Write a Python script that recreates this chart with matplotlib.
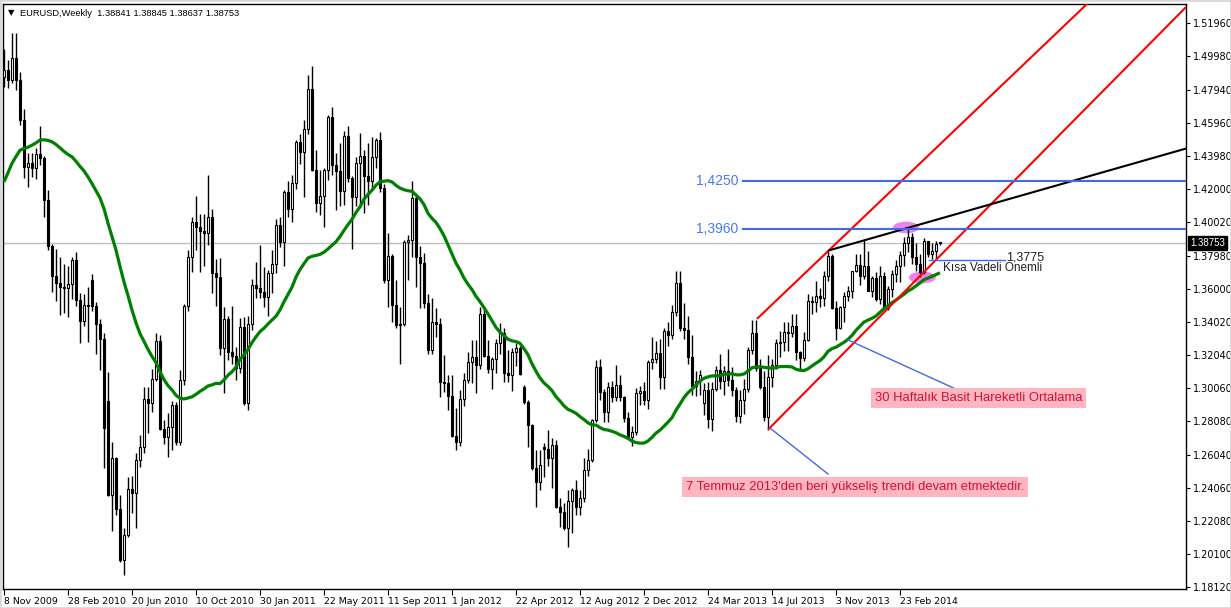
import matplotlib
matplotlib.use("Agg")
import matplotlib.pyplot as plt
import matplotlib.transforms as mtransforms
from matplotlib.patches import Ellipse, Rectangle
import numpy as np
import pandas as pd

# ---------------- data (weekly EURUSD bars, 8 Nov 2009 .. 4 May 2014) ----------------
opens = [1.4873,1.4915,1.4855,1.4987,1.4855,1.4614,1.4332,1.4356,1.4326,1.4410,
         1.4386,1.4134,1.3858,1.3678,1.3636,1.3612,1.3606,1.3630,1.3774,1.3533,
         1.3407,1.3503,1.3653,1.3497,1.3389,1.3299,1.2927,1.2363,1.2585,1.2279,
         1.1973,1.2123,1.2399,1.2375,1.2573,1.2651,1.2939,1.2915,1.3060,1.3287,
         1.2759,1.2711,1.2771,1.2903,1.2681,1.3053,1.3497,1.3792,1.4001,1.3972,
         1.3948,1.3935,1.4032,1.3696,1.3672,1.3245,1.3419,1.3221,1.3200,1.3125,
         1.3371,1.2915,1.3389,1.3623,1.3605,1.3581,1.3551,1.3694,1.3750,1.3984,
         1.3882,1.4182,1.4080,1.4236,1.4482,1.4422,1.4560,1.4801,1.4314,1.4116,
         1.4158,1.4314,1.4632,1.4344,1.4308,1.4188,1.4518,1.4266,1.4152,1.4356,
         1.4398,1.4278,1.4248,1.4392,1.4494,1.4206,1.3653,1.3798,1.3504,1.3383,
         1.3390,1.3882,1.3894,1.4146,1.3792,1.3756,1.3516,1.3233,1.3401,1.3389,
         1.3041,1.3035,1.2957,1.2717,1.2681,1.2939,1.3053,1.3161,1.3191,1.3143,
         1.3449,1.3197,1.3119,1.3179,1.3275,1.3335,1.3095,1.3083,1.3221,1.3245,
         1.3011,1.2921,1.2783,1.2525,1.2441,1.2651,1.2639,1.2585,1.2663,1.2291,
         1.2261,1.2165,1.2327,1.2393,1.2291,1.2345,1.2513,1.2575,1.2815,1.3131,
         1.2981,1.2861,1.3011,1.2951,1.3023,1.2951,1.2827,1.2711,1.2741,1.2975,
         1.2987,1.2933,1.3161,1.3179,1.3215,1.3071,1.3347,1.3323,1.3461,1.3636,
         1.3365,1.3353,1.3191,1.3020,1.3045,1.2915,1.2993,1.2819,1.2999,1.3113,
         1.3047,1.3110,1.3053,1.2993,1.2837,1.2933,1.2999,1.3233,1.3335,1.3125,
         1.3011,1.2831,1.3071,1.3143,1.3275,1.3280,1.3340,1.3335,1.3380,1.3220,
         1.3185,1.3295,1.3525,1.3520,1.3555,1.3545,1.3680,1.3800,1.3485,1.3365,
         1.3490,1.3555,1.3590,1.3705,1.3745,1.3675,1.3740,1.3590,1.3665,1.3540,
         1.3675,1.3485,1.3600,1.3690,1.3740,1.3805,1.3875,1.3910,1.3790,1.3750,
         1.3700,1.3885,1.3810,1.3830,1.38841]
highs = [1.5041,1.4975,1.5137,1.5137,1.4903,1.4680,1.4416,1.4416,1.4446,1.4578,
         1.4400,1.4194,1.3870,1.3840,1.3792,1.3750,1.3738,1.3792,1.3822,1.3575,
         1.3570,1.3611,1.3689,1.3521,1.3419,1.3335,1.3101,1.2681,1.2590,1.2363,
         1.2165,1.2471,1.2477,1.2615,1.2723,1.3011,1.3011,1.3121,1.3335,1.3323,
         1.2813,1.2855,1.2927,1.2921,1.3113,1.3510,1.3834,1.4030,1.4158,1.4050,
         1.4050,1.4284,1.4080,1.3780,1.3786,1.3491,1.3437,1.3497,1.3251,1.3425,
         1.3431,1.3437,1.3659,1.3761,1.3864,1.3732,1.3714,1.3834,1.4020,1.4032,
         1.4194,1.4248,1.4284,1.4494,1.4530,1.4614,1.4885,1.4939,1.4434,1.4314,
         1.4326,1.4644,1.4692,1.4416,1.4476,1.4548,1.4580,1.4280,1.4392,1.4536,
         1.4434,1.4476,1.4512,1.4506,1.4545,1.4230,1.3936,1.3810,1.3653,1.3491,
         1.3894,1.3924,1.4248,1.4160,1.3857,1.3815,1.3569,1.3545,1.3485,1.3425,
         1.3203,1.3083,1.3083,1.2885,1.2993,1.3095,1.3221,1.3293,1.3293,1.3491,
         1.3485,1.3293,1.3191,1.3299,1.3395,1.3365,1.3233,1.3245,1.3275,1.3257,
         1.3023,1.2935,1.2790,1.2633,1.2633,1.2675,1.2753,1.2705,1.2693,1.2345,
         1.2315,1.2393,1.2405,1.2453,1.2390,1.2585,1.2640,1.2820,1.3173,1.3179,
         1.3000,1.3041,1.3050,1.3143,1.3085,1.2960,1.2860,1.2780,1.3005,1.3015,
         1.3040,1.3173,1.3311,1.3290,1.3300,1.3365,1.3401,1.3503,1.3708,1.3710,
         1.3515,1.3440,1.3324,1.3110,1.3115,1.3035,1.3040,1.3040,1.3140,1.3210,
         1.3140,1.3240,1.3130,1.3010,1.2995,1.3060,1.3250,1.3413,1.3415,1.3180,
         1.3110,1.3205,1.3180,1.3300,1.3345,1.3400,1.3400,1.3450,1.3452,1.3230,
         1.3340,1.3570,1.3555,1.3645,1.3605,1.3705,1.3830,1.3810,1.3530,1.3495,
         1.3580,1.3620,1.3710,1.3810,1.3810,1.3895,1.3830,1.3675,1.3700,1.3740,
         1.3700,1.3620,1.3715,1.3775,1.3825,1.3915,1.3967,1.3935,1.3875,1.3810,
         1.3905,1.3890,1.3875,1.3890,1.38845]
lows = [1.4813,1.4807,1.4837,1.4795,1.4584,1.4266,1.4212,1.4272,1.4260,1.4344,
        1.4032,1.3834,1.3582,1.3528,1.3444,1.3456,1.3432,1.3539,1.3497,1.3275,
        1.3380,1.3281,1.3467,1.3209,1.3113,1.2525,1.2357,1.2147,1.2243,1.1961,
        1.1883,1.2110,1.2255,1.2165,1.2531,1.2615,1.2735,1.2861,1.3045,1.2753,
        1.2669,1.2591,1.2633,1.2663,1.2665,1.3025,1.3465,1.3700,1.3834,1.3701,
        1.3738,1.3864,1.3576,1.3497,1.3203,1.2975,1.3175,1.3149,1.3053,1.3095,
        1.2903,1.2873,1.3353,1.3545,1.3545,1.3491,1.3437,1.3575,1.3696,1.3852,
        1.3738,1.4032,1.4000,1.4200,1.4350,1.4152,1.4530,1.4310,1.4062,1.4044,
        1.3972,1.4254,1.4284,1.4074,1.4100,1.4104,1.4240,1.3839,1.4100,1.4092,
        1.4056,1.4104,1.4200,1.4326,1.4180,1.3635,1.3491,1.3400,1.3365,1.3149,
        1.3380,1.3653,1.3793,1.3610,1.3485,1.3485,1.3209,1.3210,1.3311,1.2951,
        1.2981,1.2873,1.2711,1.2633,1.2660,1.2900,1.3035,1.3035,1.2975,1.3120,
        1.3191,1.3095,1.3000,1.3095,1.3210,1.3041,1.3041,1.2989,1.3140,1.3083,
        1.2911,1.2651,1.2513,1.2291,1.2393,1.2471,1.2537,1.2405,1.2285,1.2171,
        1.2153,1.2051,1.2135,1.2240,1.2240,1.2320,1.2475,1.2560,1.2800,1.2933,
        1.2803,1.2800,1.2920,1.2930,1.2930,1.2800,1.2705,1.2660,1.2725,1.2905,
        1.2903,1.2880,1.3120,1.3155,1.2999,1.3000,1.3255,1.3300,1.3440,1.3350,
        1.3300,1.3150,1.2963,1.2960,1.2965,1.2845,1.2765,1.2745,1.2990,1.3000,
        1.2963,1.3020,1.2960,1.2801,1.2795,1.2850,1.2980,1.3210,1.3110,1.3000,
        1.2810,1.2755,1.3010,1.3120,1.3190,1.3225,1.3230,1.3310,1.3175,1.3105,
        1.3170,1.3290,1.3450,1.3460,1.3490,1.3495,1.3650,1.3480,1.3295,1.3360,
        1.3400,1.3525,1.3545,1.3700,1.3625,1.3660,1.3585,1.3550,1.3530,1.3510,
        1.3480,1.3475,1.3550,1.3640,1.3640,1.3735,1.3820,1.3750,1.3705,1.3670,
        1.3690,1.3790,1.3780,1.3775,1.38637]
closes = [1.4915,1.4855,1.4987,1.4855,1.4614,1.4332,1.4356,1.4326,1.4410,1.4386,
          1.4134,1.3858,1.3678,1.3636,1.3612,1.3606,1.3630,1.3774,1.3533,1.3407,
          1.3503,1.3497,1.3497,1.3389,1.3299,1.2765,1.2363,1.2585,1.2279,1.1973,
          1.2123,1.2399,1.2375,1.2573,1.2651,1.2939,1.2915,1.3060,1.3287,1.2759,
          1.2711,1.2771,1.2903,1.2681,1.3053,1.3497,1.3792,1.4001,1.3972,1.3948,
          1.3935,1.4032,1.3696,1.3672,1.3245,1.3419,1.3221,1.3200,1.3125,1.3371,
          1.2915,1.3389,1.3623,1.3605,1.3581,1.3551,1.3694,1.3750,1.3984,1.3882,
          1.4182,1.4080,1.4236,1.4482,1.4422,1.4560,1.4801,1.4314,1.4116,1.4158,
          1.4314,1.4632,1.4344,1.4308,1.4188,1.4518,1.4266,1.4152,1.4356,1.4398,
          1.4278,1.4248,1.4392,1.4494,1.4206,1.3653,1.3798,1.3504,1.3383,1.3390,
          1.3882,1.3894,1.4146,1.3792,1.3756,1.3516,1.3233,1.3401,1.3389,1.3041,
          1.3035,1.2957,1.2717,1.2681,1.2939,1.3053,1.3161,1.3191,1.3143,1.3449,
          1.3197,1.3119,1.3179,1.3275,1.3335,1.3095,1.3083,1.3221,1.3245,1.3089,
          1.2921,1.2783,1.2525,1.2441,1.2543,1.2639,1.2585,1.2663,1.2291,1.2261,
          1.2165,1.2327,1.2393,1.2291,1.2345,1.2513,1.2575,1.2815,1.3131,1.2981,
          1.2861,1.3011,1.2951,1.3023,1.2951,1.2827,1.2711,1.2741,1.2975,1.2987,
          1.2933,1.3161,1.3179,1.3215,1.3071,1.3347,1.3323,1.3461,1.3636,1.3365,
          1.3353,1.3191,1.3020,1.3045,1.3083,1.2993,1.2819,1.2999,1.3113,1.3047,
          1.3110,1.3053,1.2993,1.2837,1.2933,1.2999,1.3233,1.3335,1.3125,1.3011,
          1.2831,1.3071,1.3143,1.3275,1.3280,1.3340,1.3335,1.3380,1.3220,1.3185,
          1.3295,1.3525,1.3520,1.3555,1.3545,1.3680,1.3800,1.3485,1.3365,1.3490,
          1.3555,1.3590,1.3705,1.3745,1.3675,1.3740,1.3590,1.3665,1.3540,1.3675,
          1.3485,1.3600,1.3690,1.3740,1.3805,1.3875,1.3910,1.3790,1.3750,1.3700,
          1.3885,1.3810,1.3830,1.3870,1.38753]
# closes of the 29 weeks before the first visible bar (needed for the 30-week SMA)
closes_before = [1.3245,1.3275,1.3640,1.3480,1.3995,1.4150,1.3965,1.3980,1.3890,1.4080,
                 1.3960,1.3940,1.4115,1.4215,1.4250,1.4185,1.4200,1.4330,1.4330,1.4320,
                 1.4570,1.4710,1.4680,1.4580,1.4720,1.4960,1.5005,1.4720,1.4910]
sma_period = 30

date_labels = ["8 Nov 2009", "28 Feb 2010", "20 Jun 2010", "10 Oct 2010", "30 Jan 2011",
               "22 May 2011", "11 Sep 2011", "1 Jan 2012", "22 Apr 2012", "12 Aug 2012",
               "2 Dec 2012", "24 Mar 2013", "14 Jul 2013", "3 Nov 2013", "23 Feb 2014"]
date_label_bars = [0, 16, 32, 48, 64, 80, 96, 112, 128, 144, 160, 176, 192, 208, 224]
price_ticks = [1.51960, 1.49980, 1.47940, 1.45960, 1.43980, 1.42000, 1.40020, 1.37980,
               1.36000, 1.34020, 1.32040, 1.30060, 1.28080, 1.26040, 1.24060, 1.22080,
               1.20100, 1.18120]
last_price = 1.38753

levels = [1.3960, 1.4250]
level_texts = ["1,3960", "1,4250"]
short_level = 1.3775
red_lower = [(191.0, 1.2755), (230.0, 1.3702)]
red_upper = [(188.25, 1.3420), (230.0, 1.4377)]
black_trend = [(206.0, 1.3830), (226.0, 1.3967)]
pointer_sma = [(211.0, 1.3294), (238.5, 1.2993)]
pointer_trend = [(191.5, 1.2765), (206.0, 1.2489)]

# ---------------- figure ----------------
W, H = 1231, 608
fig = plt.figure(figsize=(W / 100, H / 100), dpi=100)
fig.patch.set_facecolor("white")
PL, PR, PT, PB = 3, 1186, 4, 589
ax = fig.add_axes([PL / W, (H - PB) / H, (PR - PL) / W, (PB - PT) / H])
XMIN, XMAX = -0.25, 295.5
ax.set_xlim(XMIN, XMAX)
ax.set_ylim(1.17985, 1.5311)

FONT = "Liberation Sans"
plt.rcParams["font.family"] = [FONT, "DejaVu Sans"]

n = len(closes)
x = np.arange(n)
o = np.array(opens); h = np.array(highs); l = np.array(lows); c = np.array(closes)

# SMA
allc = pd.Series(closes_before + closes)
sma = allc.rolling(sma_period).mean().to_numpy()[len(closes_before):]

# bid line
ax.axhline(last_price, color="#c0c0c0", lw=1.0, zorder=1)

# ellipses (background)
ax.add_patch(Ellipse((225.5, 1.3969), 6.5, 0.0070, facecolor="#ee82ee", edgecolor="none", zorder=1.5))
ax.add_patch(Ellipse((229.6, 1.3669), 6.75, 0.0070, facecolor="#ee82ee", edgecolor="none", zorder=1.5))

# candles
ax.vlines(x, l, h, color="black", lw=1.0, zorder=3)
bottoms = np.minimum(o, c)
heights = np.maximum(np.abs(c - o), 0.0003)
fills = ["white" if cc >= oo else "black" for oo, cc in zip(o, c)]
ax.bar(x, heights, bottom=bottoms, width=0.72, color=fills, edgecolor="black",
       linewidth=0.8, zorder=4)

# SMA line
ax.plot(x, sma, color="#008000", lw=2.3, zorder=5, solid_capstyle="butt")

def ray(pts, color, lw, z=6):
    (x1, y1), (x2, y2) = pts
    s = (y2 - y1) / (x2 - x1)
    ax.plot([x1, XMAX], [y1, y1 + s * (XMAX - x1)], color=color, lw=lw, zorder=z,
            solid_capstyle="butt")

ray(red_lower, "#ff0000", 1.5)
ray(red_upper, "#ff0000", 1.5)
ray(black_trend, "black", 1.5)

blue = "#4169e1"
for lv, tx in zip(levels, level_texts):
    ax.plot([184.75, XMAX], [lv, lv], color=blue, lw=1.5, zorder=6)
    ax.text(173.0, lv, tx, color="#4a78f0", fontsize=10, va="center", ha="left", zorder=7)

ax.plot([231.25, 250.25], [short_level, short_level], color=blue, lw=1.0, zorder=6)
ax.text(250.5, 1.3786, "1,3775", color="#202020", fontsize=9, va="center", ha="left", zorder=7)
ax.text(234.75, 1.3726, "Kısa Vadeli Önemli", color="#202020", fontsize=8.5, va="center",
        ha="left", zorder=7)

for pts in (pointer_sma, pointer_trend):
    ax.plot([pts[0][0], pts[1][0]], [pts[0][1], pts[1][1]], color=blue, lw=1.0, zorder=6)

box = dict(boxstyle="square,pad=0.28", facecolor="#ffb6c1", edgecolor="none")
ax.text(217.75, 1.2945, "30 Haftalık Basit Hareketli Ortalama", color="#d0103a",
        fontsize=9.4, va="center", ha="left", bbox=box, zorder=7)
ax.text(170.5, 1.2411, "7 Temmuz 2013'den beri yükseliş trendi devam etmektedir.",
        color="#d0103a", fontsize=9.4, va="center", ha="left", bbox=box, zorder=7)

# axes styling
for sp in ax.spines.values():
    sp.set_color("black")
    sp.set_linewidth(1.0)
ax.yaxis.tick_right()
ax.set_yticks(price_ticks)
ax.set_yticklabels([f"{v:.5f}" for v in price_ticks])
ax.tick_params(axis="y", direction="out", length=3, width=0.8, pad=2, labelsize=7,
               colors="black")
ax.set_xticks(date_label_bars)
ax.set_xticklabels(date_labels)
ax.tick_params(axis="x", direction="out", length=4, width=0.8, pad=2, labelsize=6.75,
               colors="black")
for lbl in ax.get_xticklabels():
    lbl.set_horizontalalignment("left")

blend = mtransforms.blended_transform_factory(ax.transAxes, ax.transData)
ax.text(1.0035, last_price, "1.38753", transform=blend, color="white", fontsize=7,
        va="center", ha="left", clip_on=False, zorder=10,
        bbox=dict(boxstyle="square,pad=0.2", facecolor="black", edgecolor="black"))

# title
fig.text(8 / W, 1 - 13 / H, "▼", fontsize=6, va="center", ha="left", family="DejaVu Sans")
fig.text(20 / W, 1 - 13 / H, "EURUSD,Weekly  1.38841 1.38845 1.38637 1.38753",
         fontsize=6.7, va="center", ha="left")

# outer light border
fig.patches.append(Rectangle((0, 0), 1, 1, transform=fig.transFigure, fill=False,
                             edgecolor="#d8d8d8", lw=2))

fig.savefig("out.png", dpi=100)
